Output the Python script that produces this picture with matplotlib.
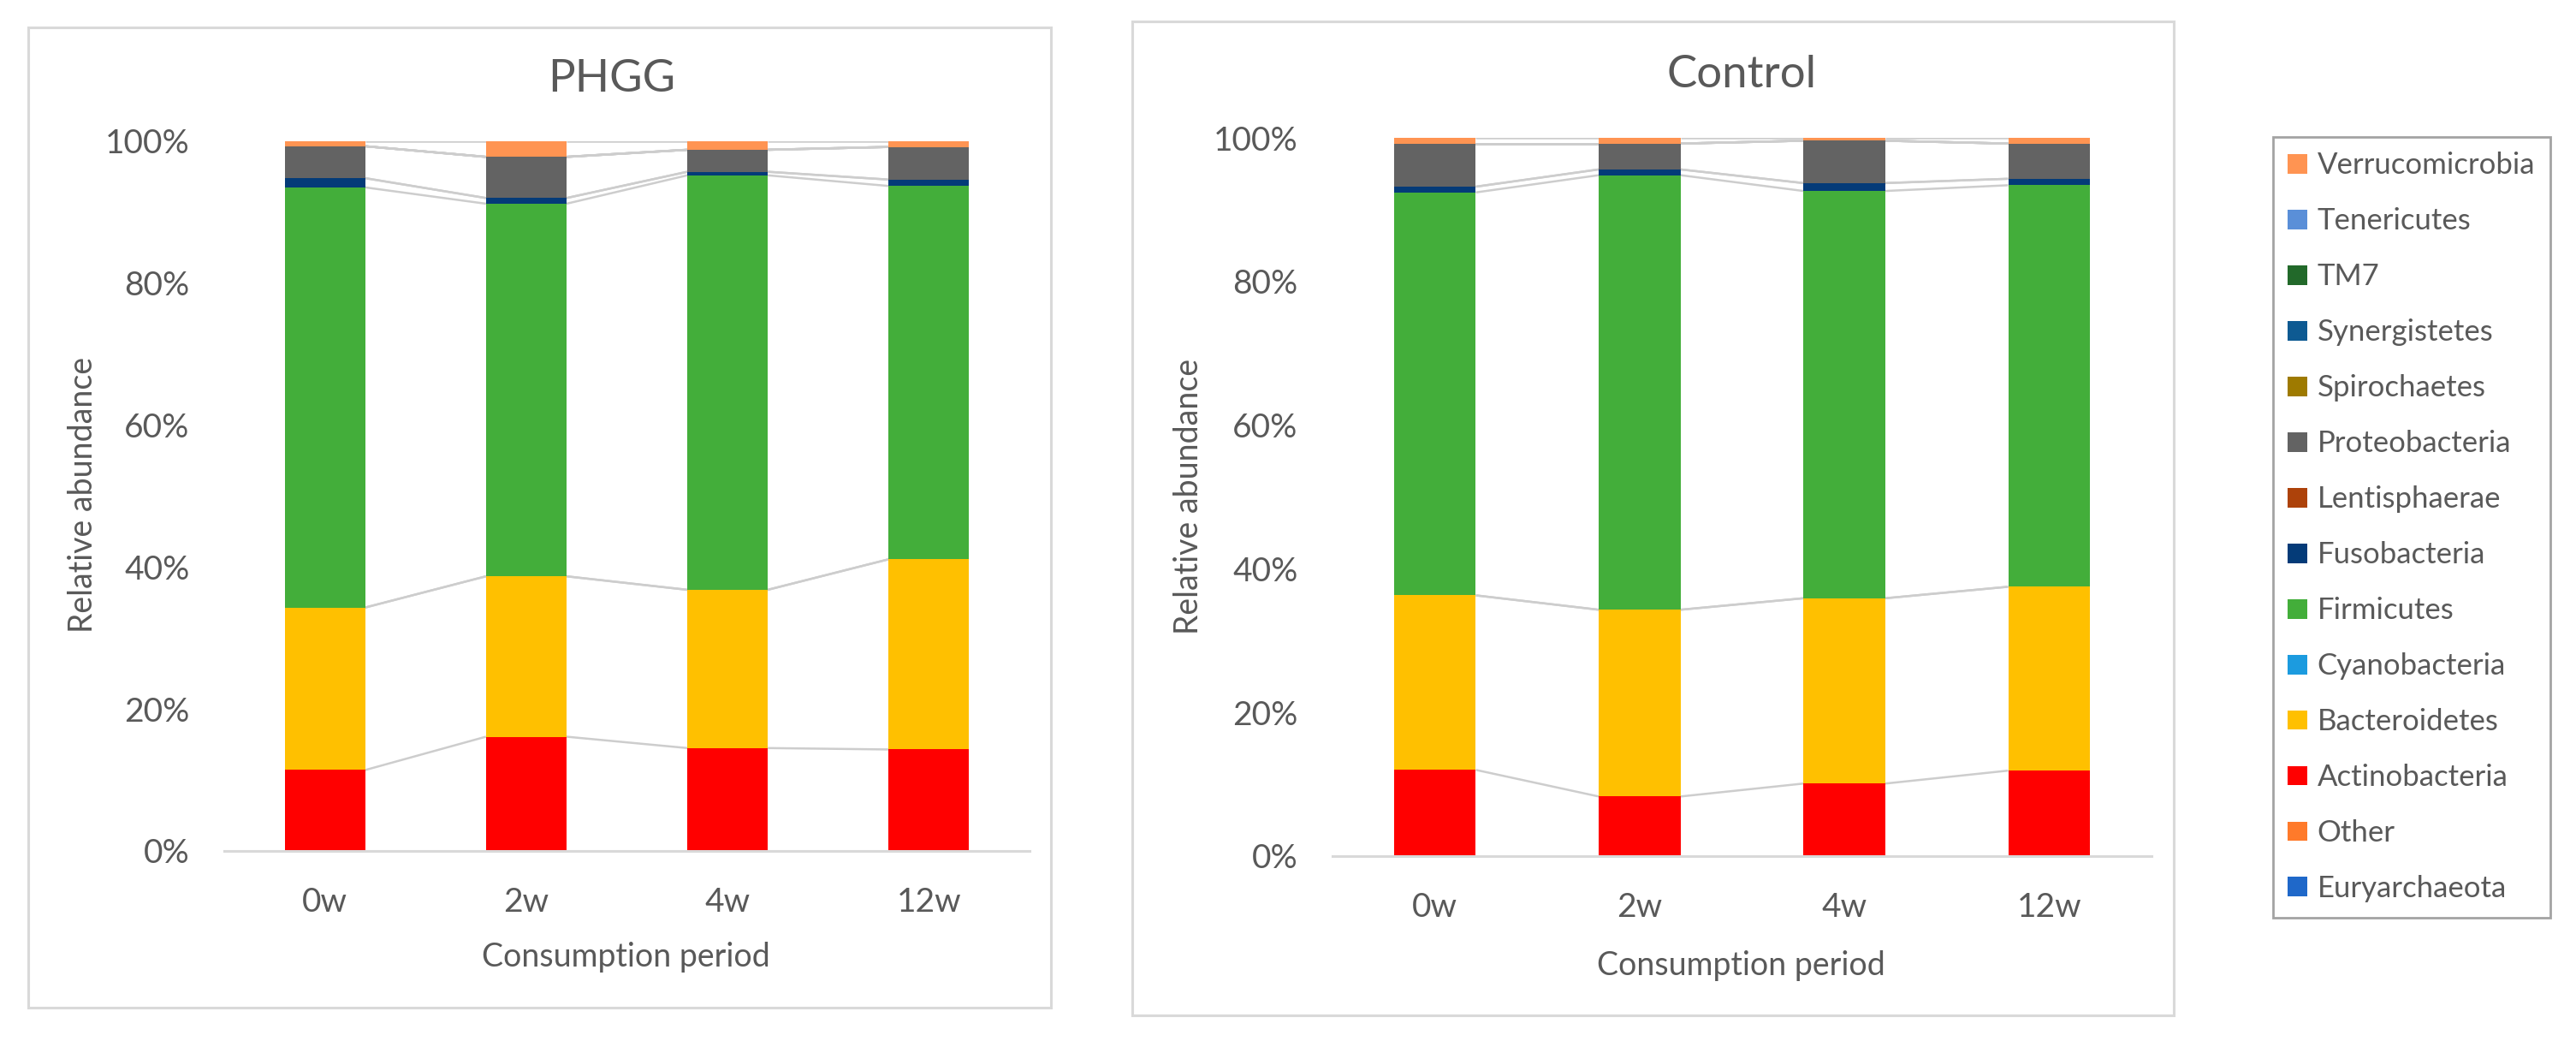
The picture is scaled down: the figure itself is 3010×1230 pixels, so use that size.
import numpy as np
import matplotlib
matplotlib.use("Agg")
import matplotlib.pyplot as plt
from matplotlib.patches import Patch, Rectangle

plt.rcParams["font.family"] = ["Lato", "DejaVu Sans"]

# ----------------------------- DATA -----------------------------
PERIODS = ["0w", "2w", "4w", "12w"]
# stacking order, bottom -> top
PHYLA = ["Euryarchaeota", "Other", "Actinobacteria", "Bacteroidetes", "Cyanobacteria",
         "Firmicutes", "Fusobacteria", "Lentisphaerae", "Proteobacteria", "Spirochaetes",
         "Synergistetes", "TM7", "Tenericutes", "Verrucomicrobia"]
COLORS = ["#1F68C9", "#FF7A2A", "#FF0000", "#FFC000", "#1C9BDF",
          "#43AE3A", "#043B78", "#AD420A", "#636363", "#9E7A00",
          "#0E5A92", "#22692A", "#5A8FD8", "#FF9452"]

# relative abundance (%) per phylum, values for 0w, 2w, 4w, 12w
PHGG = {
    "Actinobacteria":  [11.4, 16.1, 14.5, 14.3],
    "Bacteroidetes":   [22.9, 22.6, 22.3, 26.8],
    "Firmicutes":      [59.2, 52.5, 58.4, 52.6],
    "Fusobacteria":    [1.3, 0.8, 0.5, 0.9],
    "Proteobacteria":  [4.5, 5.8, 3.1, 4.6],
    "Verrucomicrobia": [0.7, 2.2, 1.2, 0.8],
}
CONTROL = {
    "Actinobacteria":  [12.0, 8.3, 10.1, 11.9],
    "Bacteroidetes":   [24.3, 26.0, 25.8, 25.6],
    "Firmicutes":      [56.1, 60.5, 56.7, 55.9],
    "Fusobacteria":    [0.8, 0.8, 1.1, 0.9],
    "Proteobacteria":  [6.0, 3.6, 5.9, 4.9],
    "Verrucomicrobia": [0.8, 0.8, 0.4, 0.8],
}

TXT = "#595959"
W, H = 3010, 1230
BAR_W = 0.4


def fx(px):
    return px / W


def fy(py):
    return 1 - py / H


def draw_panel(ax, data):
    n = len(PERIODS)
    x = np.arange(n)
    vals = np.array([data.get(p, [0.0] * n) for p in PHYLA], dtype=float)
    vals = vals / vals.sum(axis=0) * 100
    bottom = np.zeros(n)
    for p, c, v in zip(PHYLA, COLORS, vals):
        ax.bar(x, v, bottom=bottom, width=BAR_W, color=c, linewidth=0, zorder=2)
        top = bottom + v
        # Excel-style series lines between bars
        for i in range(n - 1):
            ax.plot([x[i] + BAR_W / 2, x[i + 1] - BAR_W / 2], [top[i], top[i + 1]],
                    color="#CDCDCD", lw=1.8, zorder=1, solid_capstyle="butt")
        bottom = top
    ax.set_xlim(-0.5, n - 0.5)
    ax.set_ylim(0, 100)
    ax.set_xticks(x)
    ax.set_xticklabels(PERIODS)
    ax.set_yticks([0, 20, 40, 60, 80, 100])
    ax.set_yticklabels([f"{v}%" for v in [0, 20, 40, 60, 80, 100]])
    ax.tick_params(length=0, labelsize=28, labelcolor=TXT)
    ax.tick_params(axis="y", pad=29)
    ax.tick_params(axis="x", pad=30)
    for s in ["top", "right", "left"]:
        ax.spines[s].set_visible(False)
    ax.spines["bottom"].set_color("#D9D9D9")
    ax.spines["bottom"].set_linewidth(2.2)


fig = plt.figure(figsize=(W / 100, H / 100), dpi=100)

# panel frames
for l, t, r, b in [(33, 32, 1228, 1177), (1323, 25, 2540, 1186)]:
    fig.patches.append(Rectangle((fx(l), fy(b)), fx(r - l), (b - t) / H, transform=fig.transFigure,
                                 fill=False, edgecolor="#D9D9D9", lw=2.2, zorder=0))

ax1 = fig.add_axes([fx(262), fy(994), fx(1203 - 262), (994 - 165) / H])
ax2 = fig.add_axes([fx(1557), fy(1000), fx(2514 - 1557), (1000 - 161) / H])
draw_panel(ax1, PHGG)
draw_panel(ax2, CONTROL)

fig.text(fx(715), fy(107), "PHGG", ha="center", va="baseline", fontsize=38, color=TXT)
fig.text(fx(2035), fy(102), "Control", ha="center", va="baseline", fontsize=38, color=TXT)
fig.text(fx(731), fy(1129), "Consumption period", ha="center", va="baseline", fontsize=27, color=TXT)
fig.text(fx(2034), fy(1139), "Consumption period", ha="center", va="baseline", fontsize=27, color=TXT)
fig.text(fx(108), fy(578), "Relative abundance", rotation=90, rotation_mode="anchor",
         ha="center", va="baseline", fontsize=27, color=TXT)
fig.text(fx(1400), fy(580), "Relative abundance", rotation=90, rotation_mode="anchor",
         ha="center", va="baseline", fontsize=27, color=TXT)

handles = [Patch(facecolor=c, label=p) for p, c in zip(PHYLA, COLORS)][::-1]
leg = fig.legend(handles=handles, loc="upper left", bbox_to_anchor=(fx(2656), fy(160)),
                 fontsize=25, frameon=True, fancybox=False, edgecolor="#8C8C8C",
                 handlelength=0.64, handleheight=0.64, handletextpad=0.35,
                 labelspacing=0.95, borderpad=0.5, borderaxespad=0)
leg.get_frame().set_linewidth(2)
for t in leg.get_texts():
    t.set_color(TXT)

fig.savefig("out.png", dpi=100, facecolor="white")
